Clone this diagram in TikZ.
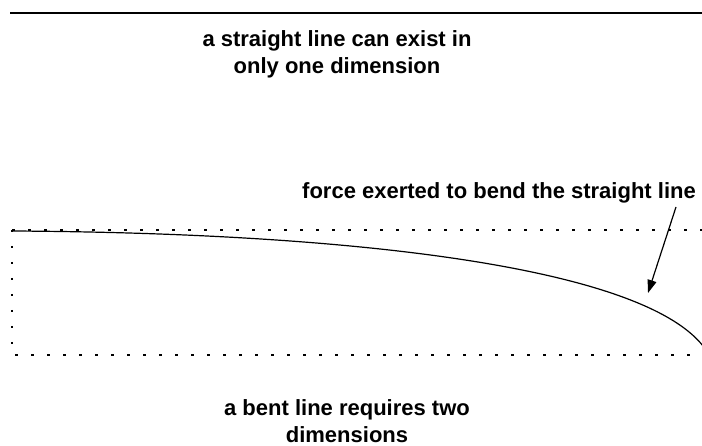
\documentclass[tikz,border=0pt]{standalone}
\usepackage{fontspec}
\setmainfont{Liberation Sans}
\usetikzlibrary{arrows.meta}
\begin{document}
\begin{tikzpicture}[x=1pt,y=-1pt,
  lbl/.style={font=\bfseries\fontsize{22}{27}\selectfont, align=center, inner sep=0pt},
  dotbox/.style={line width=1.2pt, dash pattern=on 2.5pt off 13.5pt},
  curve/.style={line width=1.2pt},
  arr/.style={line width=1.2pt, -{Triangle[length=13pt,width=9pt]}}]
\useasboundingbox (0,0) rectangle (702,446);
\clip (0,0) rectangle (702,446);
\coordinate (tl) at (10,13);
\coordinate (tr) at (710,13);
\draw[line width=2pt] (tl) -- (tr);
\node[lbl] (t1) at (337,54) {a straight line can exist in\\only one dimension};
\draw[dotbox] (12,230) -- (712,230);
\draw[dotbox] (12,230) -- (12,355) -- (712,355);
\coordinate (cs) at (12,231);
\coordinate (ce) at (706,350);
\draw[curve] (cs) .. controls (360,233) and (650,268) .. (ce);
\node[lbl, anchor=west] (f) at (302,193) {force exerted to bend the straight line};
\coordinate (fa) at (676,207);
\coordinate (ft) at (648,293);
\draw[arr] (fa) -- (ft);
\node[lbl] (b1) at (347,421) {a bent line requires two\\dimensions};
\end{tikzpicture}
\end{document}
